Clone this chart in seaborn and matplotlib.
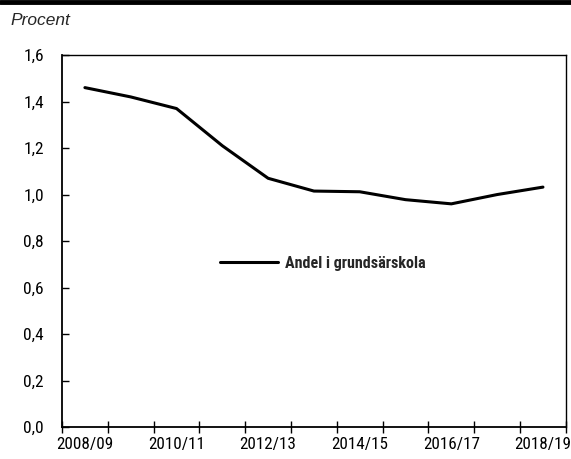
import matplotlib
matplotlib.use("Agg")
import matplotlib.pyplot as plt
import numpy as np
import pandas as pd
import seaborn as sns
from matplotlib import font_manager
from matplotlib.ticker import FixedLocator, FuncFormatter

school_years = ["2008/09", "2009/10", "2010/11", "2011/12", "2012/13", "2013/14",
                "2014/15", "2015/16", "2016/17", "2017/18", "2018/19"]
share_percent = [1.46, 1.42, 1.37, 1.21, 1.07, 1.015, 1.012, 0.978, 0.96, 1.0, 1.032]
series_label = "Andel i grundsärskola"
y_ticks = [0.0, 0.2, 0.4, 0.6, 0.8, 1.0, 1.2, 1.4, 1.6]

# condensed font if one is installed, else plain sans
installed = {f.name for f in font_manager.fontManager.ttflist}
narrow = [n for n in ["Liberation Sans Narrow", "Roboto Condensed", "DejaVu Sans Condensed",
                      "Open Sans Condensed", "Roboto"] if n in installed]

sns.set_theme(style="white")
plt.rcParams["font.family"] = narrow + ["DejaVu Sans"]

data = pd.DataFrame({"pos": np.arange(len(school_years)), "share": share_percent,
                     "serie": series_label})

fig = plt.figure(figsize=(5.71, 4.59), dpi=100)
ax = fig.add_axes([0.1086, 0.0697, 0.8824, 0.8103])

sns.lineplot(data=data, x="pos", y="share", hue="serie", palette=["black"],
             linewidth=2.2, ax=ax)

ax.set_xlim(-0.5, len(school_years) - 0.5)
ax.set_ylim(0, 1.6)
ax.set_yticks(y_ticks)
ax.yaxis.set_major_formatter(FuncFormatter(lambda v, p: f"{v:.1f}".replace(".", ",")))
ax.set_xticks(range(0, len(school_years), 2))
ax.set_xticklabels(school_years[::2])
ax.xaxis.set_minor_locator(FixedLocator(np.arange(-0.5, len(school_years), 1.0)))
ax.tick_params(axis="x", which="major", length=0, labelsize=12.3, pad=7, colors="black")
ax.tick_params(axis="x", which="minor", direction="inout", length=9, width=1, color="black", bottom=True)
ax.tick_params(axis="y", direction="in", length=5, width=1, labelsize=12.5, pad=13,
               left=True, colors="black")
ax.set_xlabel("")
ax.set_ylabel("")
for side in ["left", "right", "top", "bottom"]:
    ax.spines[side].set_visible(True)
    ax.spines[side].set_color("black")
    ax.spines[side].set_linewidth(1.0)
ax.spines["bottom"].set_linewidth(1.3)
ax.spines["left"].set_linewidth(1.3)

leg = ax.legend(loc="center left", bbox_to_anchor=(0.285, 0.44), frameon=False,
                handlelength=3.6, handletextpad=0.4, prop={"weight": "bold", "size": 11.6})
for line in leg.get_lines():
    line.set_linewidth(2.2)

fig.add_artist(plt.Line2D([0, 1], [0.996, 0.996], color="black", linewidth=3.5,
                          transform=fig.transFigure))
fig.text(0.018, 0.955, "Procent", fontsize=12.5, style="italic",
         family=["Liberation Sans", "DejaVu Sans"], va="center")

fig.savefig("out.png", dpi=100)
